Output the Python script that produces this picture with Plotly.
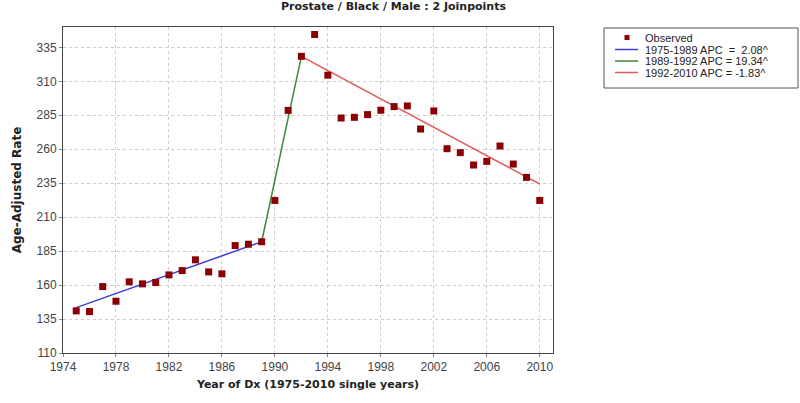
import plotly.graph_objects as go

# ---- data ----
years = list(range(1975, 2011))
observed = [141.0, 140.5, 158.9, 148.1, 162.4, 160.9, 161.9, 167.5, 170.7, 178.6,
            169.7, 168.3, 189.1, 190.1, 191.9, 222.3, 288.6, 328.4, 344.5, 314.5,
            283.0, 283.5, 285.5, 288.7, 291.4, 291.9, 274.9, 288.2, 260.4, 257.5,
            248.4, 251.1, 262.4, 249.1, 239.3, 222.3]

seg1_x = [1975, 1989]
seg1_y = [143.4, 191.9]
seg2_x = [1989, 1992]
seg2_y = [191.9, 328.4]
seg3_x = [1992, 2010]
seg3_y = [328.4, 234.4]

legend_labels = ["Observed", "1975-1989 APC  =  2.08^", "1989-1992 APC = 19.34^", "1992-2010 APC = -1.83^"]
x_ticks = list(range(1974, 2011, 4))
y_ticks = list(range(110, 336, 25))

# ---- styles ----
MARK = "#8b0000"
BLUE = "#3c3cdc"
GREEN = "#3a8a3a"
RED = "#e05a5a"
TICKFONT = dict(family="Liberation Sans, Arial, sans-serif", size=12, color="#444")
BOLD = "DejaVu Sans, Verdana, sans-serif"

fig = go.Figure()
fig.add_trace(go.Scatter(x=seg1_x, y=seg1_y, mode="lines", line=dict(color=BLUE, width=1.5), showlegend=False))
fig.add_trace(go.Scatter(x=seg2_x, y=seg2_y, mode="lines", line=dict(color=GREEN, width=1.5), showlegend=False))
fig.add_trace(go.Scatter(x=seg3_x, y=seg3_y, mode="lines", line=dict(color=RED, width=1.5), showlegend=False))
fig.add_trace(go.Scatter(x=years, y=observed, mode="markers",
                         marker=dict(symbol="square", size=7, color=MARK, line=dict(width=0)),
                         showlegend=False))

L, R, T, B = 63, 553, 27, 353
W, H = 800, 403

def px(x):
    return (x - L) / (R - L)

def py(y):
    return (B - y) / (B - T)

shapes = []
annotations = []
# legend box
shapes.append(dict(type="rect", xref="paper", yref="paper", x0=px(604), x1=px(798), y0=py(28), y1=py(88),
                   line=dict(color="#555", width=1), fillcolor="white"))
rows = [37.5, 49.5, 61, 72.5]
# observed marker
shapes.append(dict(type="rect", xref="paper", yref="paper", x0=px(624.5), x1=px(629.5), y0=py(35), y1=py(40),
                   line=dict(width=0), fillcolor=MARK))
for yy, col in zip(rows[1:], [BLUE, GREEN, RED]):
    shapes.append(dict(type="line", xref="paper", yref="paper", x0=px(615), x1=px(638), y0=py(yy), y1=py(yy),
                       line=dict(color=col, width=1.5)))
for yy, lab in zip(rows, legend_labels):
    annotations.append(dict(text=lab, xref="paper", yref="paper", x=px(644), y=py(yy), xanchor="left",
                            yanchor="middle", showarrow=False, borderpad=0,
                            font=dict(family="Liberation Sans, Arial, sans-serif", size=11, color="#222")))

# title
annotations.append(dict(text="<b>Prostate / Black / Male : 2 Joinpoints</b>", xref="paper", yref="paper",
                        x=px(393), y=py(7), xanchor="center", yanchor="middle", showarrow=False,
                        font=dict(family=BOLD, size=11, color="#222")))

fig.update_layout(
    width=W, height=H,
    margin=dict(l=L, r=W - R, t=T, b=H - B, autoexpand=False),
    plot_bgcolor="white", paper_bgcolor="white",
    shapes=shapes, annotations=annotations,
    xaxis=dict(range=[1974, 2011], tickvals=x_ticks, ticks="outside", ticklen=3, tickcolor="#888",
               showgrid=True, gridcolor="#cccccc", griddash="dot", gridwidth=1,
               showline=True, linecolor="#444", linewidth=1, mirror=True, zeroline=False,
               tickfont=TICKFONT, automargin=False,
               title=dict(text="<b>Year of Dx (1975-2010 single years)</b>", standoff=6,
                          font=dict(family=BOLD, size=11, color="#222"))),
    yaxis=dict(range=[110, 350], tickvals=y_ticks, ticks="outside", ticklen=3, tickcolor="#888",
               showgrid=True, gridcolor="#cccccc", griddash="dot", gridwidth=1,
               showline=True, linecolor="#444", linewidth=1, mirror=True, zeroline=False,
               tickfont=TICKFONT, automargin=False,
               title=dict(text="<b>Age-Adjusted Rate</b>", standoff=12,
                          font=dict(family=BOLD, size=12, color="#222"))),
)

fig.write_html("out.html", config={"displayModeBar": False},
               post_script="document.body.style.margin='0';document.body.style.overflow='hidden';")
